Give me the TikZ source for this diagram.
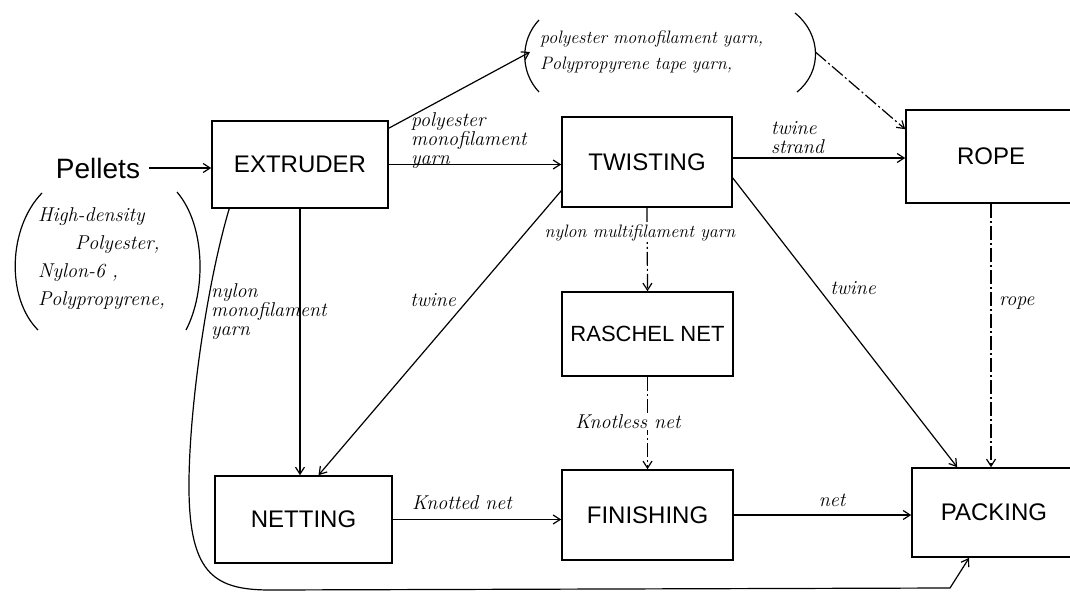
\documentclass[tikz,border=0pt]{standalone}
\usepackage{fontspec}
\setsansfont{Liberation Sans}
\usetikzlibrary{arrows.meta,calc}
\tikzset{
  box/.style={draw, line width=1.6pt, inner sep=0pt, font=\sffamily\fontsize{24}{24}\selectfont},
  arr/.style={line width=1.2pt, -{Straight Barb[length=7pt,width=9pt]}},
  plain/.style={line width=1.2pt},
  brk/.style={dash pattern=on 14pt off 3pt on 2pt off 3pt},
  lab/.style={font=\itshape\fontsize{20}{19}\selectfont, inner sep=1pt},
  biglab/.style={font=\itshape\fontsize{20}{28}\selectfont, inner sep=0pt, align=left},
}
\begin{document}
\begin{tikzpicture}[x=1pt,y=-1pt]
\path[use as bounding box, fill=white] (0,0) rectangle (1070,593);

% boxes
\node[box, minimum width=176pt, minimum height=87pt] (ex) at (300,164.5) {EXTRUDER};
\node[box, minimum width=170pt, minimum height=90pt] (tw) at (647,162) {TWISTING};
\node[box, minimum width=170pt, minimum height=93pt] (rp) at (991,156.5) {ROPE};
\node[box, minimum width=171pt, minimum height=84pt, font=\sffamily\fontsize{22}{22}\selectfont] (rn) at (647.5,334) {RASCHEL NET};
\node[box, minimum width=177pt, minimum height=87pt] (nt) at (303.5,519.5) {NETTING};
\node[box, minimum width=171pt, minimum height=90pt] (fn) at (647.5,515) {FINISHING};
\node[box, minimum width=164pt, minimum height=89pt] (pk) at (994,512.5) {PACKING};

% inputs
\node[font=\sffamily\fontsize{28}{28}\selectfont, inner sep=0pt] (pel) at (98,168) {Pellets};
\node[biglab, anchor=west] (pl) at (38,259) {High-density\\\hspace*{37pt}Polyester,\\Nylon-6 ,\\Polypropyrene,};
\draw[plain] (42,193) .. controls (8,228) and (6,298) .. (38,330);
\draw[plain] (177,192) .. controls (206,226) and (206,292) .. (186,330);

% top group
\node[font=\itshape\fontsize{18}{26}\selectfont, inner xsep=10pt, inner ysep=0pt, text width=265pt, align=left, anchor=west] (tp) at (530,52) {polyester monofilament yarn,\\Polypropyrene tape yarn,};
\draw[plain] (539,20) .. controls (520,40) and (520,72) .. (539,92);
\draw[plain] (795,13) .. controls (822,35) and (822,72) .. (797,92);

% connectors
\coordinate (ts) at ($(tw.east)+(0,-4)$);
\coordinate (tt) at ($(tw.east)+(0,16)$);
\coordinate (tn) at ($(tw.south west)+(0,-17)$);
\draw[arr] ($(pel.east)+(9,0)$) -- (pel.east -| ex.west);
\draw[arr] (ex.east) -- (ex.east -| tw.west);
\draw[arr] ($(ex.north east)+(0,8)$) -- (tp.west);
\draw[arr, brk] (tp.east) -- ($(rp.north west)+(0,20)$);
\draw[arr] (ts) -- (ts -| rp.west);
\draw[arr, brk] (tw.south) -- (rn.north);
\draw[arr] (tn) -- ($(nt.north)+(15,0)$);
\draw[arr] (tt) -- ($(pk.north west)+(46,0)$);
\draw[arr, brk] (rp.south) -- (rp.south |- pk.north);
\draw[arr] (ex.south) -- (ex.south |- nt.north);
\draw[arr, brk] (rn.south) -- (fn.north);
\draw[arr] (nt.east) -- (nt.east -| fn.west);
\draw[arr] (fn.east) -- (fn.east -| pk.west);
\draw[arr] ($(ex.south west)+(18,0)$) .. controls (208,280) and (190,400) .. (189,480) .. controls (188,572) and (212,590) .. (270,590) -- (950,588) -- ($(pk.south west)+(58,0)$);

% labels
\node[lab, anchor=west, align=left] at (410,141) {polyester\\monofilament\\yarn};
\node[lab, anchor=west, align=left] at (770,138) {twine\\strand};
\node[lab, fill=white, font=\itshape\fontsize{18}{19}\selectfont] at (640,233) {nylon multifilament yarn};
\node[lab, fill=white] at (628,422) {Knotless net};
\node[lab, anchor=west, align=left] at (210,312) {nylon\\monofilament\\yarn};
\node[lab] at (433,300) {twine};
\node[lab] at (853,288) {twine};
\node[lab, anchor=west] at (998,303) {rope};
\node[lab] at (462,503) {Knotted net};
\node[lab] at (832,500) {net};
\end{tikzpicture}
\end{document}
